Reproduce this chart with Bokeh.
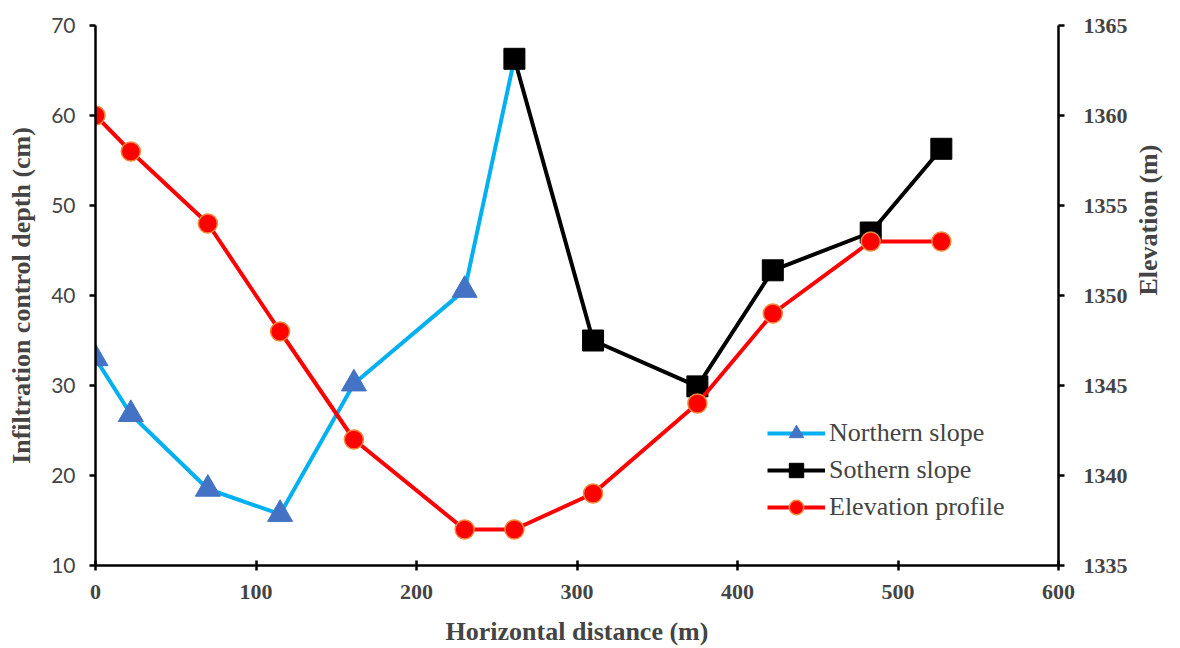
import math
from bokeh.plotting import figure
from bokeh.models import Range1d, LinearAxis, SingleIntervalTicker, Legend, LegendItem
from bokeh.embed import file_html
from bokeh.resources import INLINE

# ---- data ----
north_x = [0, 22, 70, 115, 161, 230, 261]
north_depth = [33.0, 26.8, 18.5, 15.7, 30.2, 40.6, 66.3]

south_x = [261, 310, 375, 422, 483, 527]
south_depth = [66.3, 35.0, 29.9, 42.8, 47.0, 56.3]

elev_x = [0, 22, 70, 115, 161, 230, 261, 310, 375, 422, 483, 527]
elev_m = [1360, 1358, 1354, 1348, 1342, 1337, 1337, 1339, 1344, 1349, 1353, 1353]

x_title = "Horizontal distance (m)"
y_title = "Infiltration control depth (cm)"
y2_title = "Elevation (m)"
names = ["Northern slope", "Sothern slope", "Elevation profile"]

SERIF = "Liberation Serif"

p = figure(width=1180, height=648, output_backend="svg", toolbar_location=None,
           x_range=Range1d(0, 600), y_range=Range1d(10, 70),
           min_border_left=95, min_border_right=120, min_border_top=25, min_border_bottom=83)
p.extra_y_ranges = {"elev": Range1d(1335, 1365)}
p.outline_line_color = None
p.xgrid.visible = False
p.ygrid.visible = False
p.background_fill_color = "white"
p.border_fill_color = "white"

# x axis
xa = p.xaxis[0]
xa.ticker = SingleIntervalTicker(interval=100)
xa.axis_label = x_title
xa.axis_label_text_font = SERIF
xa.axis_label_text_font_style = "bold"
xa.axis_label_text_font_size = "26px"
xa.axis_label_standoff = 15
xa.major_label_text_font = SERIF
xa.major_label_text_font_style = "bold"
xa.major_label_text_font_size = "22px"
xa.major_label_standoff = 14
xa.axis_line_width = 2.5
xa.major_tick_line_width = 2.5
xa.major_tick_in = 5
xa.major_tick_out = 5
xa.minor_tick_line_color = None

# left axis
ya = p.yaxis[0]
ya.ticker = SingleIntervalTicker(interval=10)
ya.axis_label = y_title
ya.axis_label_text_font = SERIF
ya.axis_label_text_font_style = "bold"
ya.axis_label_text_font_size = "26px"
ya.axis_label_standoff = 12
ya.major_label_text_font = "Lato"
ya.major_label_text_font_style = "normal"
ya.major_label_text_font_size = "21px"
ya.major_label_standoff = 14
ya.axis_line_width = 2.5
ya.major_tick_line_width = 2.5
ya.major_tick_in = 0
ya.major_tick_out = 6
ya.minor_tick_line_color = None

# right axis
ra = LinearAxis(y_range_name="elev", ticker=SingleIntervalTicker(interval=5))
ra.axis_label = y2_title
ra.axis_label_text_font = SERIF
ra.axis_label_text_font_style = "bold"
ra.axis_label_text_font_size = "26px"
ra.axis_label_standoff = 18
if "axis_label_orientation" in LinearAxis.properties():
    ra.axis_label_orientation = math.pi / 2
ra.major_label_text_font = SERIF
ra.major_label_text_font_style = "bold"
ra.major_label_text_font_size = "22px"
ra.major_label_standoff = 19
ra.axis_line_width = 2.5
ra.major_tick_line_width = 2.5
ra.major_tick_in = 0
ra.major_tick_out = 6
ra.minor_tick_line_color = None
p.add_layout(ra, "right")

# series
BLUE_LINE = "#00B0F0"
BLUE_MARK = "#4472C4"
RED = "#FF0000"
ORANGE = "#F0883A"

l1 = p.line(north_x, north_depth, line_color=BLUE_LINE, line_width=4)
# the last northern marker sits under the first southern square
m1 = p.scatter(north_x[:-1], north_depth[:-1], marker="triangle", size=25,
               fill_color=BLUE_MARK, line_color=BLUE_MARK)

l2 = p.line(south_x, south_depth, line_color="black", line_width=4)
m2 = p.scatter(south_x, south_depth, marker="square", size=21,
               fill_color="black", line_color="black")

l3 = p.line(elev_x, elev_m, line_color=RED, line_width=4, y_range_name="elev")
m3 = p.scatter(elev_x, elev_m, marker="circle", size=19, y_range_name="elev",
               fill_color=RED, line_color=ORANGE, line_width=1.5)

legend = Legend(items=[
    LegendItem(label=names[0], renderers=[l1, m1]),
    LegendItem(label=names[1], renderers=[l2, m2]),
    LegendItem(label=names[2], renderers=[l3, m3]),
], location=(668, 36))
legend.label_text_font = SERIF
legend.label_text_font_size = "26px"
legend.label_standoff = 4
legend.glyph_width = 58
legend.glyph_height = 36
legend.label_height = 36
legend.spacing = 1
legend.padding = 4
legend.margin = 0
legend.background_fill_alpha = 0
legend.border_line_alpha = 0
p.add_layout(legend, "center")

open("out.html", "w").write(file_html(p, INLINE))
